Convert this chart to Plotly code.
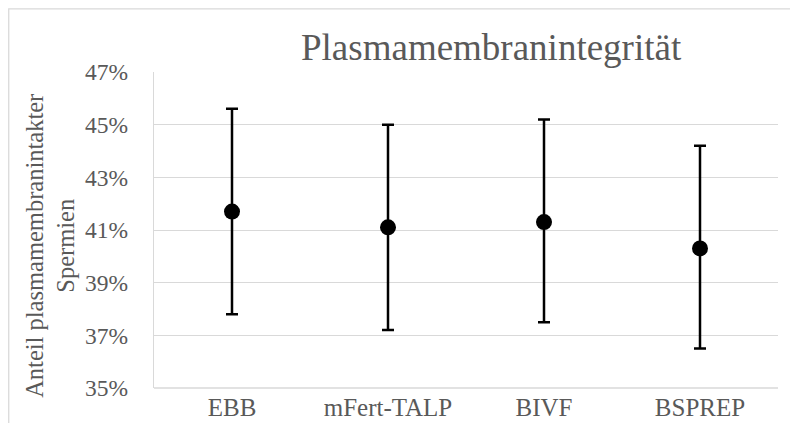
import plotly.graph_objects as go

# Media and their mean share of membrane-intact sperm, with error bar extents
media = ["EBB", "mFert-TALP", "BIVF", "BSPREP"]
mean_share = [0.417, 0.411, 0.413, 0.403]
err_plus = [0.039, 0.039, 0.039, 0.039]
err_minus = [0.039, 0.039, 0.038, 0.038]
y_ticks = [0.35, 0.37, 0.39, 0.41, 0.43, 0.45, 0.47]

W, H = 790, 423
L, R, T, B = 153.5, 11.5, 72, 35.3
pw, ph = W - L - R, H - T - B

def px_x(p):
    return (p - L) / pw

def px_y(p):
    return (H - B - p) / ph

grey = "#595959"
grid = "#d9d9d9"
serif = "Liberation Serif"

fig = go.Figure(
    go.Scatter(
        x=media,
        y=mean_share,
        mode="markers",
        marker=dict(color="black", size=16),
        error_y=dict(
            type="data",
            symmetric=False,
            array=err_plus,
            arrayminus=err_minus,
            color="black",
            thickness=2.5,
            width=6,
        ),
        showlegend=False,
    )
)

fig.update_layout(
    width=W,
    height=H,
    margin=dict(l=L, r=R, t=T, b=B),
    paper_bgcolor="white",
    plot_bgcolor="white",
    font=dict(family=serif, color=grey),
    xaxis=dict(
        range=[-0.5, 3.5],
        automargin=False,
        showgrid=False,
        showline=False,
        zeroline=False,
        tickfont=dict(size=25, color=grey),
        ticks="",
        ticklabelstandoff=2,
    ),
    yaxis=dict(
        range=[0.35, 0.47],
        automargin=False,
        tickvals=y_ticks,
        tickformat=".0%",
        showgrid=True,
        gridcolor=grid,
        gridwidth=1.3,
        showline=True,
        linecolor=grid,
        linewidth=1.3,
        zeroline=False,
        ticks="",
        ticklabelstandoff=20,
        tickfont=dict(size=23.5, color=grey),
    ),
    shapes=[
        # outer chart frame
        dict(
            type="rect", xref="paper", yref="paper",
            x0=px_x(8), x1=px_x(820), y0=px_y(450), y1=px_y(9),
            line=dict(color=grid, width=1.3), layer="below",
        ),
        # horizontal line at the bottom of the plot area
        dict(
            type="line", xref="paper", yref="paper",
            x0=0, x1=1, y0=0, y1=0,
            line=dict(color=grid, width=1.3), layer="below",
        ),
    ],
    annotations=[
        dict(
            text="Plasmamembranintegrität",
            xref="paper", yref="paper",
            x=px_x(492), y=px_y(48),
            xanchor="center", yanchor="middle",
            showarrow=False,
            font=dict(size=37, color=grey, family=serif),
        ),
        dict(
            text="Anteil plasmamembranintakter<br>Spermien",
            xref="paper", yref="paper",
            x=px_x(49), y=px_y(246),
            xanchor="center", yanchor="middle",
            textangle=-90,
            showarrow=False,
            font=dict(size=24.5, color=grey, family=serif),
        ),
    ],
)

fig.write_html("out.html")
